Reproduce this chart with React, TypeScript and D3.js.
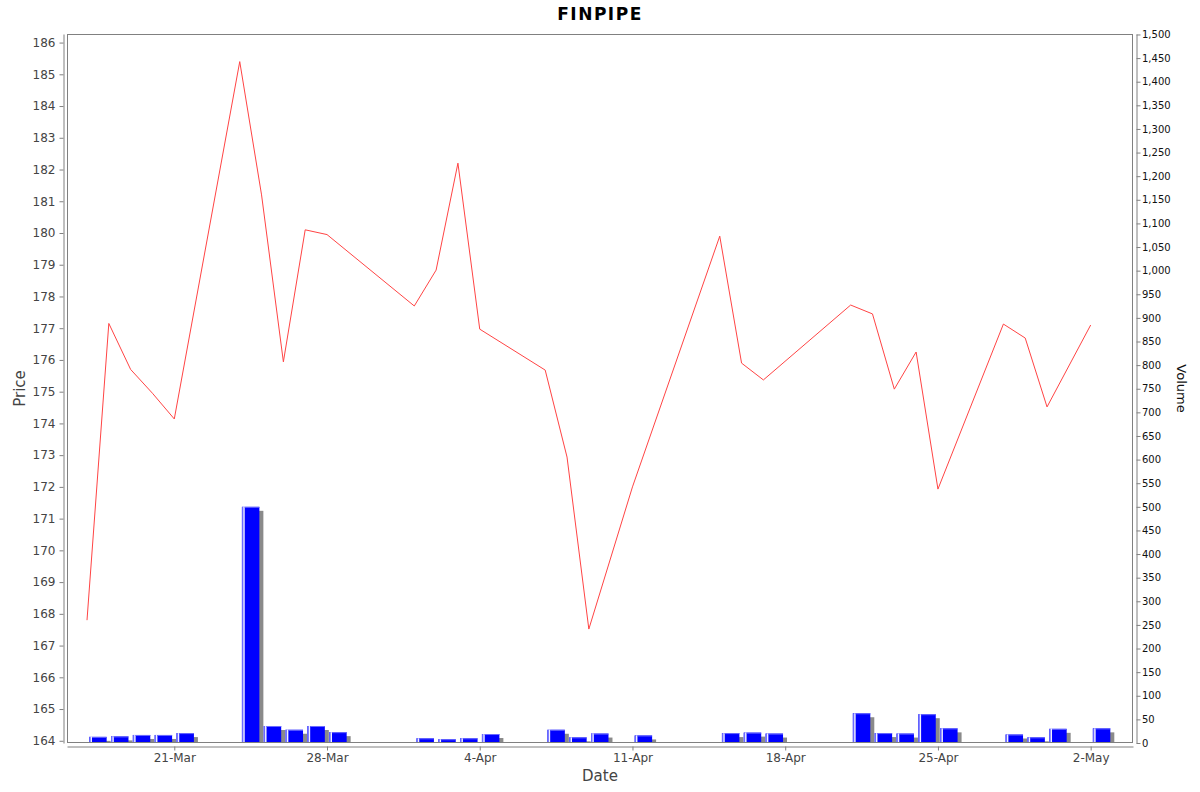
import React, { useEffect, useRef } from "react";
import * as d3 from "d3";

// trading days (local dates), close price and volume
const dates: string[] = [
    "2025-03-17", "2025-03-18", "2025-03-19", "2025-03-20", "2025-03-21",
    "2025-03-24", "2025-03-25", "2025-03-26", "2025-03-27", "2025-03-28",
    "2025-04-01", "2025-04-02", "2025-04-03", "2025-04-04",
    "2025-04-07", "2025-04-08", "2025-04-09", "2025-04-11",
    "2025-04-15", "2025-04-16", "2025-04-17",
    "2025-04-21", "2025-04-22", "2025-04-23", "2025-04-24", "2025-04-25",
    "2025-04-28", "2025-04-29", "2025-04-30", "2025-05-02",
];
const prices: number[] = [
    167.8, 177.15, 175.7, 174.95, 174.14,
    185.4, 181.2, 175.94, 180.1, 179.95,
    177.7, 178.83, 182.2, 176.97,
    175.68, 172.94, 167.52, 172.0,
    179.9, 175.9, 175.37,
    177.73, 177.45, 175.08, 176.25, 171.93,
    177.13, 176.69, 174.52, 177.1,
];
const volumes: number[] = [
    13, 14, 17, 17, 21,
    500, 36, 28, 36, 23,
    10, 8, 10, 19,
    28, 12, 20, 16,
    21, 22, 20,
    63, 21, 20, 61, 31,
    18, 12, 30, 31,
];
const dateTicks: string[] = ["2025-03-21", "2025-03-28", "2025-04-04", "2025-04-11", "2025-04-18", "2025-04-25", "2025-05-02"];

const DAY = 864e5;
const parse = (s: string) => {
    const [y, m, d] = s.split("-").map(Number);
    return new Date(y, m - 1, d);
};

export default function App() {
    const ref = useRef<SVGSVGElement>(null);

    useEffect(() => {
        const width = 1200;
        const height = 792;
        const left = 67, right = 1133, top = 34, bottom = 743;
        const svg = d3.select(ref.current).attr("width", width).attr("height", height);
        svg.selectAll("*").remove();

        const data = dates.map((d, i) => ({ date: parse(d), price: prices[i], volume: volumes[i] }));

        const t0 = parse("2025-03-21").getTime() - 4.917 * DAY;
        const t1 = parse("2025-05-02").getTime() + 1.94 * DAY;
        const x = d3.scaleTime().domain([new Date(t0), new Date(t1)]).range([left, right]);
        const yPrice = d3.scaleLinear().domain([163.93, 186.27]).range([bottom, top]);
        const yVol = d3.scaleLinear().domain([0, 1501]).range([bottom, top]);

        svg.append("rect").attr("width", width).attr("height", height).attr("fill", "#fff");

        svg.append("defs").append("clipPath").attr("id", "plot-clip")
            .append("rect").attr("x", left).attr("y", top).attr("width", right - left).attr("height", bottom - top);

        // volume bars with shadow and highlight
        const bars = svg.append("g").attr("clip-path", "url(#plot-clip)");
        const barX0 = (d: Date) => x(new Date(d.getTime() + 0.1 * DAY));
        const barX1 = (d: Date) => x(new Date(d.getTime() + 0.9 * DAY));

        bars.selectAll("rect.shadow")
            .data(data)
            .join("rect")
            .attr("class", "shadow")
            .attr("x", (d) => barX0(d.date) + 4)
            .attr("y", (d) => yVol(d.volume) + 4)
            .attr("width", (d) => barX1(d.date) - barX0(d.date))
            .attr("height", (d) => bottom - yVol(d.volume))
            .attr("fill", "#8a8a8a");

        bars.selectAll("rect.bar")
            .data(data)
            .join("rect")
            .attr("class", "bar")
            .attr("x", (d) => barX0(d.date))
            .attr("y", (d) => yVol(d.volume))
            .attr("width", (d) => barX1(d.date) - barX0(d.date))
            .attr("height", (d) => bottom - yVol(d.volume))
            .attr("fill", "#0000ff");

        bars.selectAll("rect.hl1")
            .data(data)
            .join("rect")
            .attr("class", "hl1")
            .attr("x", (d) => barX0(d.date))
            .attr("y", (d) => yVol(d.volume))
            .attr("width", 1.3)
            .attr("height", (d) => bottom - yVol(d.volume))
            .attr("fill", "#6b6bff");

        bars.selectAll("rect.hl2")
            .data(data)
            .join("rect")
            .attr("class", "hl2")
            .attr("x", (d) => barX0(d.date) + 1.3)
            .attr("y", (d) => yVol(d.volume))
            .attr("width", 1.5)
            .attr("height", (d) => bottom - yVol(d.volume))
            .attr("fill", "#f2f2ff");

        bars.selectAll("rect.hl3")
            .data(data)
            .join("rect")
            .attr("class", "hl3")
            .attr("x", (d) => barX0(d.date) + 2.8)
            .attr("y", (d) => yVol(d.volume))
            .attr("width", (d) => barX1(d.date) - barX0(d.date) - 2.8)
            .attr("height", 1)
            .attr("fill", "#6b6bff");

        // price line
        const line = d3.line<{ date: Date; price: number }>()
            .x((d) => x(d.date))
            .y((d) => yPrice(d.price));
        svg.append("path")
            .datum(data)
            .attr("d", line)
            .attr("fill", "none")
            .attr("stroke", "#ff4444")
            .attr("stroke-width", 1);

        // plot outline
        svg.append("rect")
            .attr("x", left + 0.5).attr("y", top + 0.5)
            .attr("width", right - left - 1).attr("height", bottom - top - 1)
            .attr("fill", "none").attr("stroke", "#808080");

        const font = "'DejaVu Sans', Verdana, sans-serif";
        const styleAxis = (g: d3.Selection<SVGGElement, unknown, null, undefined>, size: number, color: string) => {
            g.select(".domain").attr("stroke", "#808080");
            g.selectAll(".tick line").attr("stroke", "#808080");
            g.selectAll(".tick text").attr("fill", color).style("font-size", `${size}px`).style("font-family", font);
        };

        // left price axis
        const yAxisLeft = svg.append("g")
            .attr("transform", `translate(${left - 3.5}, 0)`)
            .call(d3.axisLeft(yPrice).tickValues(d3.range(164, 187, 1)).tickFormat(d3.format("d")).tickSize(4).tickSizeOuter(0).tickPadding(4));
        styleAxis(yAxisLeft, 12, "#444");

        // right volume axis
        const yAxisRight = svg.append("g")
            .attr("transform", `translate(${right + 3.5}, 0)`)
            .call(d3.axisRight(yVol).tickValues(d3.range(0, 1501, 50)).tickFormat(d3.format(",")).tickSize(4).tickSizeOuter(0).tickPadding(1.5));
        styleAxis(yAxisRight, 10, "#111");

        // bottom date axis
        const xAxis = svg.append("g")
            .attr("transform", `translate(0, ${bottom + 3.5})`)
            .call(d3.axisBottom(x).tickValues(dateTicks.map(parse)).tickFormat((d) => d3.timeFormat("%-d-%b")(d as Date)).tickSize(4).tickSizeOuter(0).tickPadding(3));
        styleAxis(xAxis, 12, "#444");

        // titles
        svg.append("text")
            .attr("x", 600).attr("y", 20)
            .attr("text-anchor", "middle")
            .style("font-family", font).style("font-size", "17px").style("font-weight", "bold")
            .style("letter-spacing", "1.5px")
            .text("FINPIPE");

        svg.append("text")
            .attr("x", 600).attr("y", 781)
            .attr("text-anchor", "middle").attr("fill", "#444")
            .style("font-family", font).style("font-size", "15px")
            .text("Date");

        svg.append("text")
            .attr("transform", `translate(25, ${(top + bottom) / 2}) rotate(-90)`)
            .attr("text-anchor", "middle").attr("fill", "#444")
            .style("font-family", font).style("font-size", "15px")
            .text("Price");

        svg.append("text")
            .attr("transform", `translate(1177, ${(top + bottom) / 2}) rotate(90)`)
            .attr("text-anchor", "middle").attr("fill", "#111")
            .style("font-family", font).style("font-size", "13px")
            .text("Volume");
    }, []);

    return (
        <div style={{ position: "absolute", left: 0, top: 0 }}>
            <svg ref={ref} style={{ display: "block" }} />
        </div>
    );
}
